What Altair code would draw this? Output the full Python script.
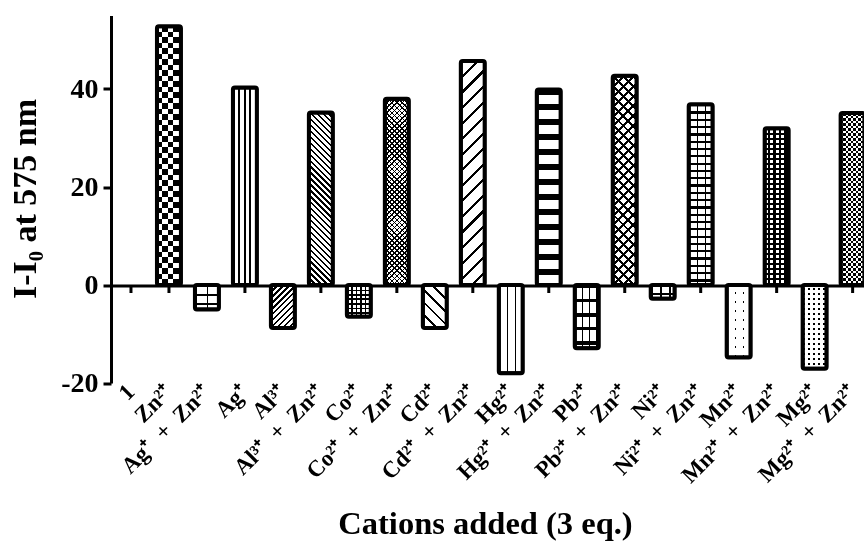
import math
import altair as alt
import pandas as pd

# ---------------- data ----------------
S = "\u00a0\u00a0+\u00a0\u00a0"
categories = ["1", "Zn²⁺", "Ag⁺" + S + "Zn²⁺", "Ag⁺", "Al³⁺", "Al³⁺" + S + "Zn²⁺", "Co²⁺",
              "Co²⁺" + S + "Zn²⁺", "Cd²⁺", "Cd²⁺" + S + "Zn²⁺", "Hg²⁺", "Hg²⁺" + S + "Zn²⁺",
              "Pb²⁺", "Pb²⁺" + S + "Zn²⁺", "Ni²⁺", "Ni²⁺" + S + "Zn²⁺", "Mn²⁺",
              "Mn²⁺" + S + "Zn²⁺", "Mg²⁺", "Mg²⁺" + S + "Zn²⁺"]
values = [None, 52.8, -5.0, 40.3, -8.8, 35.2, -6.5, 38.0, -8.8, 45.7, -18.0,
          39.9, -12.9, 42.7, -2.8, 36.9, -14.8, 32.0, -17.1, 35.1]
tick_index = [0, 1, 3, 5, 7, 9, 11, 13, 15, 17, 19]
y_ticks = [-20, 0, 20, 40]
y_domain = [-20, 55]

# ---------------- geometry / style ----------------
FONT = "Liberation Serif"
PLOT_W, PLOT_H = 753, 367.5
RANGE_W = 761.6
P_IN, P_OUT = 0.368, 0.21
N = len(categories)
STEP = RANGE_W / (N - P_IN + 2 * P_OUT)
BW = STEP * (1 - P_IN)
PX = PLOT_H / (y_domain[1] - y_domain[0])
TICK_LEN = 8

B, W, T = "black", "white", "rgba(255,255,255,0)"


def checker(cell):
    return [("v", 2 * cell, 0.5, B, W, None), ("h", 2 * cell, 0.5, W, T, "difference")]


def lines(d, period, duty):
    return [(d, period, duty, B, W, None)]


def grid(pv, dv, ph, dh):
    return [("v", pv, dv, B, W, None), ("h", ph, dh, B, T, None)]


def cross(period, duty):
    return [("f", period, duty, B, W, None), ("b", period, duty, B, T, None)]


def dots(pv, ph, size):
    return [("v", pv, size / pv, B, W, None), ("h", ph, 1 - size / ph, W, T, None)]


def holes(pv, ph, size):
    return [("v", pv, size / pv, W, B, None), ("h", ph, 1 - size / ph, B, T, None)]


# fill pattern per category index
patterns = {
    1: checker(5.5),
    2: grid(12, 0.12, 9, 0.2),
    3: lines("v", 5.5, 0.3),
    4: lines("f", 4.2, 0.4),
    5: lines("b", 4.2, 0.4),
    6: grid(4.5, 0.35, 4.5, 0.35),
    7: cross(3.6, 0.35),
    8: lines("b", 9, 0.22),
    9: lines("f", 11, 0.2),
    10: lines("v", 8, 0.18),
    11: lines("h", 15, 0.4),
    12: grid(7, 0.22, 14, 0.25),
    13: cross(7, 0.3),
    14: grid(9, 0.2, 8, 0.25),
    15: grid(8, 0.22, 7.3, 0.3),
    16: dots(8, 9, 1.8),
    17: holes(5.5, 5, 3),
    18: dots(5, 5, 2),
    19: checker(2.5),
}


def gradient(direction, period, duty, on, off, w, h):
    if direction == "v":
        length, coords = w, dict(x1=0, y1=0, x2=1, y2=0)
    elif direction == "h":
        length, coords = h, dict(x1=0, y1=0, x2=0, y2=1)
    else:
        r = h / w
        a = (1 + r) / (1 + r * r)
        length = (w + h) / math.sqrt(2)
        if direction == "f":
            coords = dict(x1=0, y1=0, x2=a, y2=a * r)
        else:
            coords = dict(x1=0, y1=1, x2=a, y2=1 - a * r)
    pt = period / length
    stops = []
    k = 0
    while k * pt < 1:
        s = k * pt
        m = min(1.0, s + duty * pt)
        e = min(1.0, (k + 1) * pt)
        stops += [(on, s), (on, m), (off, m), (off, e)]
        k += 1
    gs = [alt.GradientStop(color=c, offset=round(o, 5)) for c, o in stops]
    return alt.LinearGradient(gradient="linear", stops=gs, **coords)


df = pd.DataFrame({"cat": categories, "idx": list(range(N)), "value": values})
tick_df = pd.DataFrame({"cat": [categories[i] for i in tick_index]})

x_axis = alt.Axis(
    title="Cations added (3 eq.)", domain=False, ticks=False, labelAngle=315,
    labelAlign="right", labelBaseline="middle", labelOverlap=False,
    labelFont=FONT, labelFontSize=23, labelFontWeight="bold", labelColor="black",
    labelPadding=5, titleFont=FONT, titleFontSize=32.5, titleFontWeight="bold",
    titleColor="black", titleX=374, titleY=150, titleBaseline="alphabetic",
)
y_axis = alt.Axis(
    values=y_ticks, title="I-I₀ at 575 nm", domainWidth=3, domainColor="black",
    tickSize=8, tickWidth=3, tickColor="black", labelFont=FONT, labelFontSize=28,
    labelFontWeight="bold", labelColor="black", labelPadding=5,
    labelExpr="'' + datum.value",
    titleFont=FONT, titleFontSize=34, titleFontWeight="bold", titleColor="black",
    titleX=-76, titleY=183, titleBaseline="alphabetic", titleAngle=270,
    grid=True, gridColor="black", gridWidth=3,
    gridOpacity={"condition": {"test": "datum.value === 0", "value": 1}, "value": 0},
)

X = alt.X("cat:N", sort=categories,
          scale=alt.Scale(domain=categories, range=[0, RANGE_W],
                          paddingInner=P_IN, paddingOuter=P_OUT),
          axis=x_axis)
Y = alt.Y("value:Q", scale=alt.Scale(domain=y_domain, nice=False), axis=y_axis)

base = alt.Chart(df).encode(x=X, y=Y)

layers = [base.mark_bar(fill="white", strokeWidth=0)]
for i, v in enumerate(values):
    if v is None or i not in patterns:
        continue
    h = abs(v) * PX
    for (d, period, duty, on, off, blend) in patterns[i]:
        kw = dict(fill=gradient(d, period, duty, on, off, BW, h), strokeWidth=0)
        if blend:
            kw["blend"] = blend
        layers.append(base.transform_filter(alt.datum.idx == i).mark_bar(**kw))

layers.append(base.mark_bar(fill="white", fillOpacity=0, stroke="black",
                            strokeWidth=4, cornerRadius=2))
layers.append(
    alt.Chart(tick_df).mark_rule(color="black", strokeWidth=3).encode(
        x=X, y=alt.datum(0), y2=alt.datum(-TICK_LEN / PX))
)

chart = alt.layer(*layers).properties(
    width=PLOT_W, height=PLOT_H,
    padding={"left": 111, "top": 15.5, "right": 0, "bottom": 160},
    autosize=alt.AutoSizeParams(type="none"),
    background="white",
).configure_view(strokeWidth=0)

chart.save("out.html", embed_options={"renderer": "svg", "actions": False})
